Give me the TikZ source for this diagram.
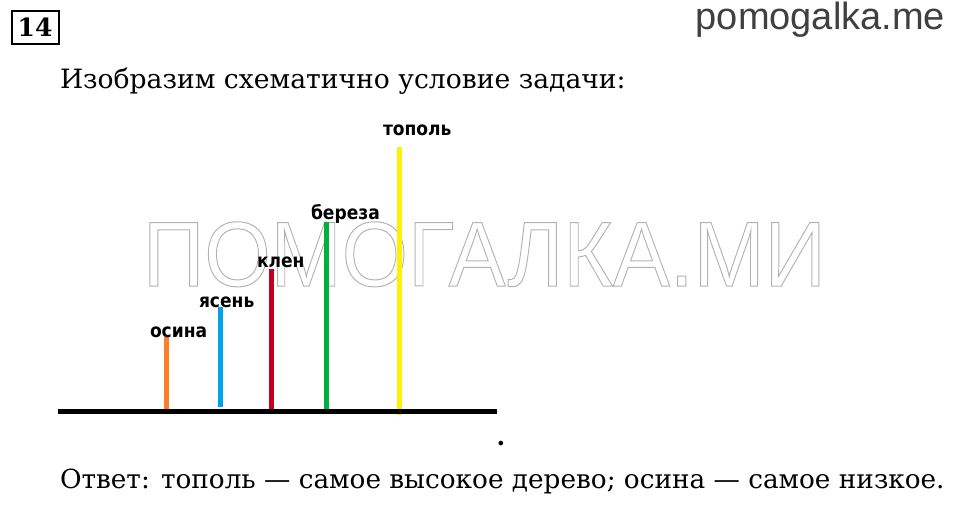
\documentclass[tikz,border=0pt]{standalone}
\usepackage{fontspec}
\usepackage{graphicx}
\setmainfont{DejaVu Serif}
\newfontfamily\labelfont{DejaVu Sans Condensed}
\newfontfamily\sitefont{Liberation Sans}
\usepackage{tikz}

\definecolor{osinacol}{HTML}{FF7F27}
\definecolor{yasencol}{HTML}{00A2E8}
\definecolor{klencol}{HTML}{C8001E}
\definecolor{berezacol}{HTML}{00B140}
\definecolor{topolcol}{HTML}{FFF200}

\begin{document}
\begin{tikzpicture}[x=1pt,y=-1pt]
        \tikzstyle{every node}=[inner sep=0pt, outer sep=0pt];
        \tikzstyle{tree}=[line width=5pt];
        \tikzstyle{treename}=[anchor=base west, font=\labelfont\bfseries\fontsize{19}{19}\selectfont];
        \tikzstyle{sentence}=[anchor=base west, font=\fontsize{26.6}{26.6}\selectfont];
        \useasboundingbox (0,0) rectangle (960,507);
        \node[anchor=base west, text=black!30, font=\sitefont\fontsize{92}{92}\selectfont] (mark) at (143,286)
            {\scalebox{0.927}[1]{\special{pdf:literal direct 1 Tr 1 w}ПОМОГАЛКА.МИ\special{pdf:literal direct 0 Tr}}};
        \node[draw, line width=2pt, minimum width=47pt, minimum height=33pt, font=\bfseries\fontsize{25}{25}\selectfont] (num) at (35,27) {14};
        \node[anchor=base east, text=black!75, font=\sitefont\fontsize{38}{38}\selectfont] (site) at (945,29) {pomogalka.me};
        \node[sentence] (task) at (60,88) {Изобразим схематично условие задачи:};
        \node[sentence, font=\fontsize{26.3}{26.3}\selectfont] (answer) at (60,488) {Ответ: тополь~— самое высокое дерево; осина~— самое низкое.};
        \coordinate (osinab) at (166,410);
        \coordinate (osinat) at (166,337);
        \coordinate (yasenb) at (220,407);
        \coordinate (yasent) at (220,307);
        \coordinate (klenb) at (271,410);
        \coordinate (klent) at (271,269);
        \coordinate (berezab) at (326,410);
        \coordinate (berezat) at (326,222);
        \coordinate (topolb) at (399,415);
        \coordinate (topolt) at (399,147);
        \draw[tree, osinacol] (osinab) -- (osinat);
        \draw[tree, yasencol] (yasenb) -- (yasent);
        \draw[tree, klencol] (klenb) -- (klent);
        \draw[tree, berezacol] (berezab) -- (berezat);
        \draw[tree, topolcol] (topolb) -- (topolt);
        \coordinate (groundl) at (58,411.5);
        \coordinate (groundr) at (497,411.5);
        \draw[tree] (groundl) -- (groundr);
        \node[treename] (osina) at (150,337) {осина};
        \node[treename] (yasen) at (199,307) {ясень};
        \node[treename] (klen) at (257,267) {клен};
        \node[treename] (bereza) at (311,219) {береза};
        \node[treename] (topol) at (383,135) {тополь};
        \node[anchor=base, font=\bfseries\fontsize{25}{25}\selectfont] (dot) at (501,445) {.};
    \end{tikzpicture}
\end{document}
